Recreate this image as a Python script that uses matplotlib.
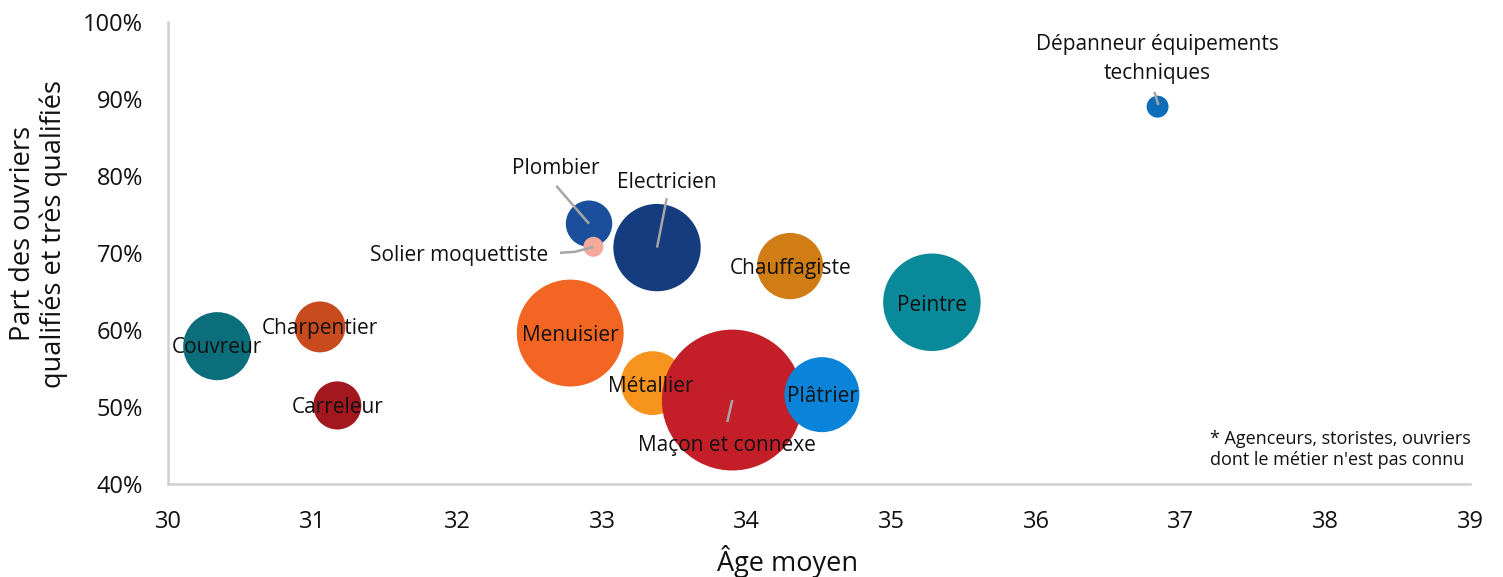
import numpy as np
import matplotlib.pyplot as plt

plt.rcParams['font.family'] = ['Open Sans', 'DejaVu Sans']

# métiers du bâtiment : âge moyen, part des ouvriers qualifiés (%), effectif (milliers)
metiers = ['Couvreur', 'Charpentier', 'Carreleur', 'Menuisier', 'Plombier',
           'Solier moquettiste', 'Electricien', 'Métallier', 'Maçon et connexe',
           'Chauffagiste', 'Plâtrier', 'Peintre', 'Dépanneur équipements\ntechniques']
age_moyen = [30.34, 31.05, 31.17, 32.78, 32.91, 32.94, 33.38, 33.35, 33.90,
             34.30, 34.52, 35.28, 36.84]
part_qualifies = [57.9, 60.4, 50.2, 59.6, 73.8, 70.8, 70.7, 53.1, 50.9,
                  68.3, 51.6, 63.6, 89.0]
effectif = [11.6, 6.5, 5.8, 28.6, 5.4, 1.0, 19.1, 10.2, 49.7,
            11.0, 14.1, 23.8, 1.2]
couleurs = ['#0b6e7a', '#c84b1e', '#a3181e', '#f26522', '#1b4f9c', '#f4a99a',
            '#143c7f', '#f7941d', '#c41f28', '#d07d15', '#0a84d9', '#0a899b',
            '#0e6db8']

fig = plt.figure(figsize=(15.03, 5.77), dpi=100)
ax = fig.add_axes([0.1118, 0.1612, 0.8663, 0.8007])
ax.set_xlim(30, 39)
ax.set_ylim(40, 100)

ax.scatter(age_moyen, part_qualifies, s=np.array(effectif) * 207,
           c=couleurs, edgecolors='none', zorder=2)

# label offset in points from bubble centre, plus alignment
decalages = {
    'Couvreur': (0, -1, 'center'), 'Charpentier': (0, -1, 'center'),
    'Carreleur': (0, -1.5, 'center'), 'Menuisier': (0, -1.5, 'center'),
    'Métallier': (-1.5, -2.5, 'center'), 'Chauffagiste': (0, -2, 'center'),
    'Plâtrier': (0, -1.5, 'center'), 'Peintre': (0, -2.5, 'center'),
    'Maçon et connexe': (-3.5, -32.5, 'center'),
    'Electricien': (7, 47, 'center'),
    'Plombier': (-24.3, 40, 'center'),
    'Solier moquettiste': (-32.6, -6.5, 'right'),
    'Dépanneur équipements\ntechniques': (0, 34, 'center'),
}
for m, x, y in zip(metiers, age_moyen, part_qualifies):
    dx, dy, ha = decalages[m]
    ax.annotate(m, (x, y), xytext=(dx, dy), textcoords='offset points',
                ha=ha, va='center', fontsize=15, color='#111111',
                linespacing=1.5, zorder=4)

# leader lines, in offset points from the bubble centre
traits = {
    'Maçon et connexe': [(0, 0), (-3.6, -15.8)],
    'Electricien': [(0, 0), (7, 35.6)],
    'Plombier': [(0, 0), (-23.6, 27.3)],
    'Solier moquettiste': [(-24, -4.3), (-13.2, -3.6), (0, 0)],
    'Dépanneur équipements\ntechniques': [(0.6, 1.2), (-2.3, 10.6)],
}
k = fig.dpi / 72
for m, pts in traits.items():
    i = metiers.index(m)
    xp, yp = ax.transData.transform((age_moyen[i], part_qualifies[i]))
    pix = np.array([(xp + a * k, yp + b * k) for a, b in pts])
    dat = ax.transData.inverted().transform(pix)
    ax.plot(dat[:, 0], dat[:, 1], color='#a6a6a6', lw=1.8, zorder=3,
            solid_capstyle='butt')

ax.set_xticks(range(30, 40))
ax.set_yticks(range(40, 101, 10))
ax.set_yticklabels([f'{v}%' for v in range(40, 101, 10)])
ax.tick_params(length=0, labelsize=17, colors='#111111')
ax.tick_params(axis='x', pad=19)
ax.tick_params(axis='y', pad=18)
for s in ['top', 'right']:
    ax.spines[s].set_visible(False)
for s in ['left', 'bottom']:
    ax.spines[s].set_color('#d0d0d0')
    ax.spines[s].set_linewidth(1.8)

ax.set_xlabel('Âge moyen', fontsize=19.5, color='#111111')
ax.xaxis.set_label_coords(0.476, -0.132)
ax.set_ylabel('Part des ouvriers\nqualifiés et très qualifiés', fontsize=19.5,
              color='#111111', linespacing=1.1)
ax.yaxis.set_label_coords(-0.0768, 0.542)

ax.text(0.800, 0.117, "* Agenceurs, storistes, ouvriers\ndont le métier n'est pas connu",
        transform=ax.transAxes, fontsize=13, color='#111111', va='top',
        linespacing=1.25)

fig.savefig('out.png', dpi=100)
